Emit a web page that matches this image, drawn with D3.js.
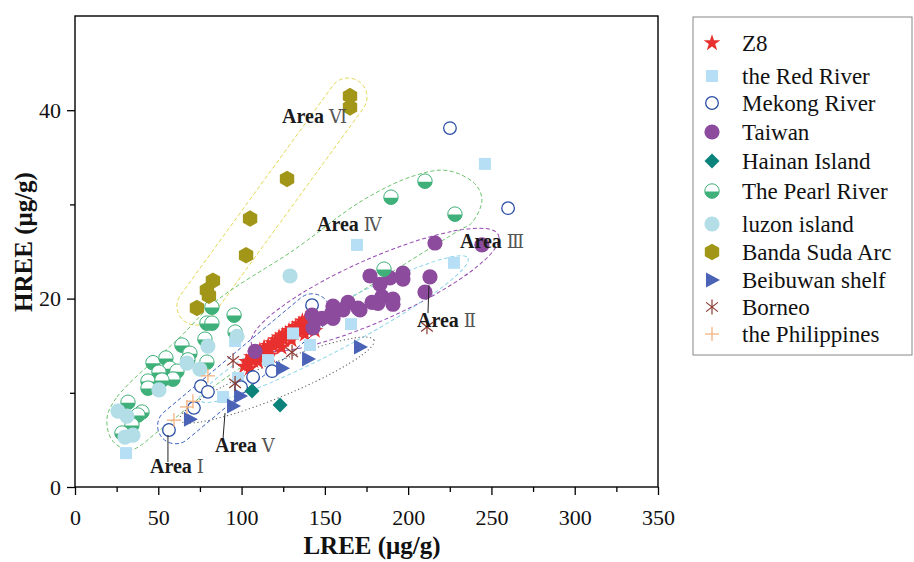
<!DOCTYPE html>
<html><head><meta charset="utf-8">
<script src="https://cdn.jsdelivr.net/npm/d3@7"></script>
<style>
body{margin:0;background:#fff;}
svg{display:block;}
text{font-family:"Liberation Serif","Times New Roman",serif;}
</style>
</head><body>
<svg id="chart" width="914" height="562"></svg>
<script>
// ---------------- DATA ----------------
const seriesNames = ["Z8","the Red River","Mekong River","Taiwan","Hainan Island","The Pearl River","luzon island","Banda Suda Arc","Beibuwan shelf","Borneo","the Philippines"];
const xTicks = [0,50,100,150,200,250,300,350];
const xMinorTicks = [25,75,125,175,225,275,325];
const yTicks = [0,20,40];
const yMinorTicks = [10,30];

const z8 = [[101.5,12.8],[103,13.3],[104.5,13.0],[105,12.6],[106,13.8],[107,13.4],[108.5,14.2],[110,13.9],[110,13.3],[111,14.5],[112.5,14.1],[113.5,14.8],[115,14.4],[116,15.0],[117,14.6],[117,14.0],[118.5,15.3],[119.5,14.9],[120.5,15.6],[121.5,15.2],[122.5,15.9],[123.5,15.4],[124,14.8],[124.5,16.1],[125.5,15.6],[126.5,16.3],[127.5,15.9],[128.5,16.6],[129.5,16.1],[130,15.6],[130.5,16.8],[131.5,16.3],[132.5,17.0],[133.5,16.5],[134.5,17.3],[135.5,16.8],[136.5,17.6],[137.5,17.0],[138,16.2],[138.5,17.8],[139.5,17.2],[140.5,17.5],[141.5,16.9],[143,17.3],[144,16.6]];
const redRiver = [[30.6,3.6],[88.9,9.55],[97.9,11.56],[115.9,13.47],[96.1,15.5],[130.9,16.3],[141.1,15.07],[165.7,17.3],[169.3,25.7],[227.5,23.8],[246.1,34.3]];
const mekong = [[56.4,6.05],[71.4,8.4],[75.6,10.7],[79.8,10.1],[99.7,10.6],[106.9,11.67],[118.3,12.3],[142.3,19.3],[260.0,29.6],[225.1,38.1]];
const taiwan = [[244.3,25.7],[216.1,25.9],[213.1,22.3],[210.1,20.7],[196.9,22.7],[196.9,22.07],[189.1,22.2],[183.1,21.5],[177.1,22.4],[184.3,20.2],[190.9,19.95],[190.9,19.4],[178.3,19.6],[181.9,19.5],[169.9,19.0],[163.9,19.6],[154.9,19.2],[160.9,18.8],[154.3,18.5],[154.9,17.9],[148.3,17.9],[142.3,18.25],[142.9,16.9],[108.1,14.4],[171.1,18.8]];
const hainan = [[106.3,10.2],[123.1,8.7]];
const pearlRiver = [[210.1,32.47],[189.7,30.77],[228.1,28.97],[185.5,23.13],[82.2,19.1],[95.5,18.25],[79.2,17.4],[82.2,17.4],[96.1,16.45],[78.0,15.7],[64.2,15.07],[69.0,14.2],[67.8,13.5],[46.8,13.2],[54.6,13.7],[79.2,13.26],[57.0,12.6],[50.4,12.2],[61.2,12.3],[43.8,11.25],[58.8,11.46],[52.2,11.35],[43.8,10.5],[31.8,9.0],[40.2,7.96],[37.8,7.64],[34.2,6.58],[28.2,5.73]];
const luzon = [[129.1,22.4],[97.3,16.0],[79.8,14.96],[67.2,13.16],[75.0,12.5],[50.4,10.3],[25.8,8.06],[31.2,7.53],[30.0,5.3],[34.8,5.5]];
const banda = [[165.1,41.5],[165.1,40.3],[127.3,32.7],[105.1,28.5],[102.7,24.6],[82.8,21.9],[79.2,20.9],[80.4,20.3],[73.2,19.0]];
const beibuwan = [[69.0,7.2],[94.9,8.6],[99.1,9.65],[124.3,12.6],[139.9,13.6],[171.1,14.85]];
const borneo = [[94.9,13.4],[96.1,11.0],[130.3,14.3],[211.3,17.0]];
const philippines = [[59.4,7.1],[67.2,8.5],[70.8,9.1],[79.8,11.8]];

// Area outlines (data units)
const areaVI_ends = [[72.6,19.2],[163.9,41.4]];
const areaI_ends = [[60.4,6.5],[142.4,18.6]];
const areaII_ends = [[75.0,9.23],[235.9,24.3]];
const areaIII_ends = [[106.1,15.1],[254.2,26.74]];
const areaV_ends = [[63.0,7.1],[179.5,15.6]];
const areaIV_outline = [[19.2,7.3],[25.2,9.55],[63.0,15.9],[85.2,19.8],[130.9,25.1],[172.9,30.45],[202.9,33.0],[223.3,33.6],[240.0,32.2],[244.3,30.45],[238.0,28.0],[231.1,27.3],[196.9,23.55],[135.1,16.66],[87.0,11.14],[51.0,6.05],[33.0,3.93],[22.2,4.99]];
const areaLabels = [["Ⅰ",45.0,1.49],["Ⅴ",84.05,3.71],["Ⅱ",205.3,16.98],["Ⅲ",231.1,25.36],["Ⅳ",145.3,27.16],["Ⅵ",124.3,38.6]];
const leaders = [[[55.8,5.52],[55.8,2.65]],[[90.05,7.85],[88.85,5.09]],[[212.5,21.43],[211.9,18.46]]];

// ---------------- LAYOUT ----------------
const svg = d3.select("#chart");
const x = d3.scaleLinear().domain([0,350]).range([75,658]);
const y = d3.scaleLinear().domain([0,50]).range([487,16]);

const C = {
  z8:"#e8302f", red:"#b6dff6", mekongStroke:"#2c4fa6", taiwan:"#8c4b9d", hainan:"#0b827a",
  pearl:"#3fb07a", luzon:"#b3dee7", banda:"#a29619", beibu:"#4a63b6", borneo:"#8a3a30", phil:"#f4b382"
};

// ---------- area outlines ----------
const gA = svg.append("g").attr("fill","none").attr("stroke-width",1);
function capsule(ends, r, color, dash){
  const p1=[x(ends[0][0]),y(ends[0][1])], p2=[x(ends[1][0]),y(ends[1][1])];
  const dx=p2[0]-p1[0], dy=p2[1]-p1[1], L=Math.hypot(dx,dy);
  const ux=dx/L, uy=dy/L, nx=-uy, ny=ux;
  const a1=[p1[0]+nx*r,p1[1]+ny*r], b1=[p2[0]+nx*r,p2[1]+ny*r];
  const b2=[p2[0]-nx*r,p2[1]-ny*r], a2=[p1[0]-nx*r,p1[1]-ny*r];
  gA.append("path").attr("d",`M${a1}L${b1}A${r},${r} 0 0 0 ${b2}L${a2}A${r},${r} 0 0 0 ${a1}Z`)
    .attr("stroke",color).attr("stroke-dasharray",dash);
}
function ellipse(ends, b, color, dash){
  const p1=[x(ends[0][0]),y(ends[0][1])], p2=[x(ends[1][0]),y(ends[1][1])];
  const cx=(p1[0]+p2[0])/2, cy=(p1[1]+p2[1])/2;
  const a=Math.hypot(p2[0]-p1[0],p2[1]-p1[1])/2;
  const ang=Math.atan2(p2[1]-p1[1],p2[0]-p1[0])*180/Math.PI;
  gA.append("ellipse").attr("cx",cx).attr("cy",cy).attr("rx",a).attr("ry",b)
    .attr("transform",`rotate(${ang} ${cx} ${cy})`)
    .attr("stroke",color).attr("stroke-dasharray",dash);
}
capsule(areaVI_ends,19,"#e2d852","4,2.5");
gA.append("path").datum(areaIV_outline)
  .attr("d",d3.line().x(d=>x(d[0])).y(d=>y(d[1])).curve(d3.curveCatmullRomClosed.alpha(0.5)))
  .attr("stroke","#6cc46c").attr("stroke-dasharray","4,2.5");
ellipse(areaIII_ends,31,"#9549b0","4,2.5");
ellipse(areaII_ends,21,"#8fd5ea","4,2.5");
capsule(areaI_ends,18,"#3c5fc0","4,2.5");
ellipse(areaV_ends,17,"#555","1.2,2.6");

// ---------- symbols ----------
function drawSym(g, type, cx, cy){
  switch(type){
    case 0: g.append("path").attr("d",d3.symbol(d3.symbolStar,88)()).attr("transform",`translate(${cx},${cy})`).attr("fill",C.z8); break;
    case 1: g.append("rect").attr("x",cx-6).attr("y",cy-6).attr("width",12).attr("height",12).attr("fill",C.red); break;
    case 2: g.append("circle").attr("cx",cx).attr("cy",cy).attr("r",6.3).attr("fill","#fff").attr("stroke",C.mekongStroke).attr("stroke-width",1.3); break;
    case 3: g.append("circle").attr("cx",cx).attr("cy",cy).attr("r",7.6).attr("fill",C.taiwan); break;
    case 4: g.append("path").attr("d",`M${cx},${cy-7.5}L${cx+7.5},${cy}L${cx},${cy+7.5}L${cx-7.5},${cy}Z`).attr("fill",C.hainan); break;
    case 5: {
      const r=7.2;
      g.append("circle").attr("cx",cx).attr("cy",cy).attr("r",r).attr("fill","#fff").attr("stroke",C.pearl).attr("stroke-width",1);
      g.append("path").attr("d",`M${cx-r},${cy+0.5}A${r},${r} 0 0 0 ${cx+r},${cy+0.5}Z`).attr("fill",C.pearl);
      break; }
    case 6: g.append("circle").attr("cx",cx).attr("cy",cy).attr("r",7.6).attr("fill",C.luzon); break;
    case 7: {
      const r=8.3, pts=d3.range(6).map(i=>{const a=Math.PI/6+i*Math.PI/3; return [cx+r*Math.cos(a),cy+r*Math.sin(a)];});
      g.append("path").attr("d","M"+pts.join("L")+"Z").attr("fill",C.banda); break; }
    case 8: g.append("path").attr("d",`M${cx-6},${cy-7.5}L${cx+8},${cy}L${cx-6},${cy+7.5}Z`).attr("fill",C.beibu); break;
    case 9: {
      const r=7.5;
      [90,38,142].forEach(deg=>{const a=deg*Math.PI/180;
        g.append("line").attr("x1",cx-r*Math.cos(a)).attr("y1",cy-r*Math.sin(a)).attr("x2",cx+r*Math.cos(a)).attr("y2",cy+r*Math.sin(a))
         .attr("stroke",C.borneo).attr("stroke-width",1.2);});
      break; }
    case 10: {
      const r=7;
      g.append("line").attr("x1",cx-r).attr("y1",cy).attr("x2",cx+r).attr("y2",cy).attr("stroke",C.phil).attr("stroke-width",1.3);
      g.append("line").attr("x1",cx).attr("y1",cy-r).attr("x2",cx).attr("y2",cy+r).attr("stroke",C.phil).attr("stroke-width",1.3);
      break; }
  }
}

const allSeries = [z8,redRiver,mekong,taiwan,hainan,pearlRiver,luzon,banda,beibuwan,borneo,philippines];
const gP = svg.append("g");
allSeries.forEach((s,i)=>{
  const g = gP.append("g");
  s.forEach(d=>drawSym(g,i,x(d[0]),y(d[1])));
});

// ---------- area labels ----------
const gL = svg.append("g");
leaders.forEach(l=>{
  gL.append("line").attr("x1",x(l[0][0])).attr("y1",y(l[0][1])).attr("x2",x(l[1][0])).attr("y2",y(l[1][1]))
    .attr("stroke","#222").attr("stroke-width",1);
});
areaLabels.forEach(d=>{
  const t = gL.append("text").attr("x",x(d[1])).attr("y",y(d[2])).attr("font-size",20).attr("fill","#1a1a1a");
  t.append("tspan").attr("font-weight","bold").text("Area ");
  t.append("tspan").attr("fill","#555").attr("font-family","'DejaVu Serif','Noto Sans CJK SC',serif").attr("font-weight","normal").attr("font-size",18).text(d[0]);
});

// ---------- axes & frame ----------
svg.append("rect").attr("x",75).attr("y",16).attr("width",583).attr("height",471)
  .attr("fill","none").attr("stroke","#000").attr("stroke-width",1.4);

svg.append("g").attr("transform","translate(0,487)")
  .call(d3.axisBottom(x).tickValues(xTicks).tickSize(8).tickPadding(14).tickFormat(d3.format("d")));
svg.append("g").attr("transform","translate(0,487)")
  .call(d3.axisBottom(x).tickValues(xMinorTicks).tickSize(5).tickFormat(""));
svg.append("g").attr("transform","translate(75,0)")
  .call(d3.axisLeft(y).tickValues(yTicks).tickSize(8).tickPadding(6).tickFormat(d3.format("d")));
svg.append("g").attr("transform","translate(75,0)")
  .call(d3.axisLeft(y).tickValues(yMinorTicks).tickSize(5).tickFormat(""));
svg.selectAll(".domain").remove();
svg.selectAll(".tick line").attr("stroke","#000").attr("stroke-width",1.3);
svg.selectAll(".tick text").attr("font-family","'Liberation Serif','Times New Roman',serif").attr("font-size",22).attr("fill","#111");

svg.append("text").attr("x",372).attr("y",554).attr("text-anchor","middle")
  .attr("font-size",25).attr("font-weight","bold").attr("fill","#111").text("LREE (μg/g)");
svg.append("text").attr("transform","translate(32,242) rotate(-90)").attr("text-anchor","middle")
  .attr("font-size",25).attr("font-weight","bold").attr("fill","#111").text("HREE (μg/g)");

// ---------- legend ----------
const legendRowY = [43,76,103,132,161,191,224,252,280,307,334];
const gLeg = svg.append("g");
gLeg.append("rect").attr("x",693).attr("y",17).attr("width",219).attr("height",338)
  .attr("fill","#fff").attr("stroke","#888").attr("stroke-width",1);
seriesNames.forEach((name,i)=>{
  drawSym(gLeg,i,712,legendRowY[i]);
  gLeg.append("text").attr("x",742).attr("y",legendRowY[i]).attr("dy","0.35em")
    .attr("font-size",23).attr("fill","#111").text(name);
});
</script>
</body></html>
